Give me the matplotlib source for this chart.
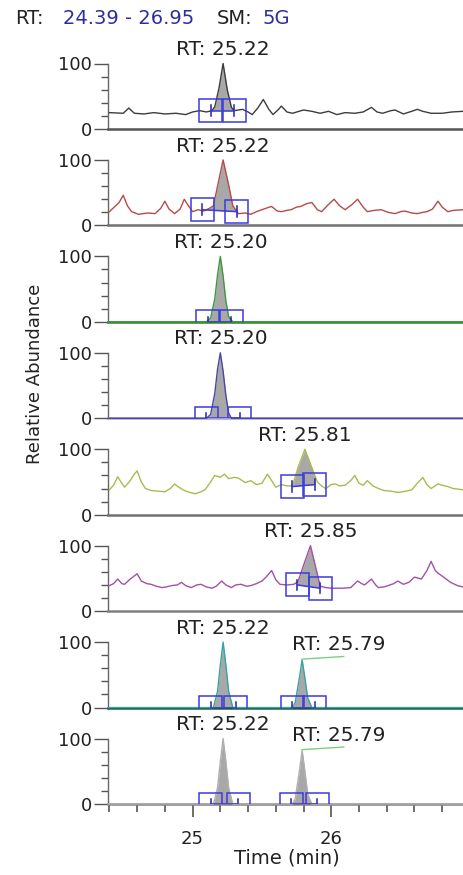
import matplotlib
matplotlib.use("Agg")
import matplotlib.pyplot as plt
from matplotlib.patches import Rectangle
from matplotlib.ticker import FixedLocator, MultipleLocator
import numpy as np

plt.rcParams["font.family"] = ["DejaVu Sans"]

X_MIN, X_MAX = 24.39, 26.95

# ── traces (time in min, relative abundance) ─────────────────────────────────
P1_T = [24.40, 24.50, 24.54, 24.58, 24.65, 24.72, 24.80, 24.88, 24.95, 25.00,
        25.05, 25.10, 25.14, 25.16, 25.19, 25.22, 25.25, 25.28, 25.30, 25.36,
        25.40, 25.43, 25.47, 25.51, 25.55, 25.58, 25.62, 25.64, 25.68, 25.72,
        25.80, 25.86, 25.92, 25.98, 26.04, 26.10, 26.17, 26.23, 26.29, 26.33,
        26.37, 26.43, 26.46, 26.52, 26.58, 26.62, 26.66, 26.72, 26.80, 26.87,
        26.95]
P1_V = [25, 24, 32, 24, 23, 25, 23, 24, 22, 26,
        28, 26, 28, 34, 62, 100, 60, 33, 28, 30,
        26, 22, 32, 45, 30, 22, 30, 35, 26, 24,
        29, 27, 24, 27, 22, 25, 24, 26, 33, 26,
        24, 28, 29, 23, 27, 30, 27, 24, 24, 26,
        27]

P2_T = [24.40, 24.47, 24.50, 24.53, 24.56, 24.61, 24.68, 24.73, 24.77, 24.80,
        24.83, 24.87, 24.91, 24.94, 24.97, 25.00, 25.04, 25.08, 25.12, 25.15,
        25.18, 25.22, 25.26, 25.29, 25.33, 25.38, 25.42, 25.46, 25.50, 25.54,
        25.57, 25.61, 25.64, 25.68, 25.71, 25.75, 25.78, 25.82, 25.86, 25.90,
        25.93, 25.98, 26.02, 26.06, 26.10, 26.15, 26.19, 26.23, 26.26, 26.31,
        26.36, 26.41, 26.46, 26.50, 26.53, 26.58, 26.62, 26.66, 26.69, 26.73,
        26.77, 26.80, 26.84, 26.88, 26.95]
P2_V = [21, 35, 46, 30, 21, 17, 19, 18, 26, 37,
        25, 18, 25, 40, 30, 21, 24, 22, 26, 30,
        60, 100, 62, 30, 18, 19, 17, 21, 24, 27,
        29, 22, 21, 23, 24, 28, 29, 33, 35, 24,
        21, 32, 40, 30, 24, 32, 40, 28, 21, 23,
        24, 20, 18, 21, 22, 19, 18, 20, 21, 25,
        37, 28, 21, 23, 24]

P3_T = [24.39, 25.10, 25.13, 25.16, 25.18, 25.20, 25.22, 25.24, 25.26, 25.29, 26.95]
P3_V = [0, 0, 6, 35, 72, 100, 70, 32, 8, 0, 0]

P4_T = [24.39, 25.10, 25.13, 25.16, 25.18, 25.20, 25.22, 25.24, 25.26, 25.28, 26.95]
P4_V = [0, 0, 6, 38, 75, 100, 72, 35, 8, 0, 0]

P5_T = [24.40, 24.43, 24.46, 24.49, 24.51, 24.55, 24.58, 24.60, 24.63, 24.66,
        24.70, 24.75, 24.80, 24.84, 24.87, 24.90, 24.94, 24.98, 25.02, 25.06,
        25.09, 25.13, 25.16, 25.20, 25.23, 25.26, 25.30, 25.33, 25.38, 25.42,
        25.46, 25.50, 25.54, 25.57, 25.60, 25.64, 25.68, 25.72, 25.76, 25.81,
        25.86, 25.90, 25.93, 25.96, 26.00, 26.03, 26.06, 26.10, 26.14, 26.17,
        26.20, 26.23, 26.26, 26.30, 26.34, 26.38, 26.43, 26.48, 26.54, 26.58,
        26.62, 26.66, 26.69, 26.72, 26.77, 26.80, 26.84, 26.88, 26.95]
P5_V = [38, 45, 58, 48, 42, 52, 62, 67, 50, 40,
        37, 36, 35, 40, 47, 42, 37, 34, 32, 35,
        38, 50, 60, 57, 62, 55, 57, 56, 49, 52,
        46, 48, 62, 52, 42, 46, 44, 44, 72, 100,
        72, 50, 44, 40, 46, 47, 44, 45, 52, 60,
        48, 45, 52, 44, 40, 37, 36, 34, 36, 38,
        48, 57, 46, 40, 47, 45, 43, 40, 38]

P6_T = [24.40, 24.43, 24.46, 24.49, 24.51, 24.55, 24.60, 24.63, 24.67, 24.70,
        24.74, 24.78, 24.81, 24.85, 24.89, 24.92, 24.95, 24.99, 25.03, 25.06,
        25.10, 25.14, 25.17, 25.21, 25.24, 25.28, 25.31, 25.35, 25.39, 25.42,
        25.46, 25.50, 25.53, 25.57, 25.60, 25.63, 25.68, 25.73, 25.76, 25.80,
        25.85, 25.89, 25.92, 25.96, 26.00, 26.08, 26.14, 26.19, 26.22, 26.24,
        26.29, 26.32, 26.34, 26.38, 26.41, 26.45, 26.48, 26.52, 26.56, 26.60,
        26.65, 26.69, 26.72, 26.75, 26.77, 26.81, 26.86, 26.91, 26.95]
P6_V = [39, 42, 49, 42, 41, 49, 57, 46, 42, 41,
        38, 36, 37, 39, 40, 44, 39, 36, 40, 41,
        37, 35, 38, 46, 40, 36, 40, 41, 38, 39,
        42, 46, 52, 62, 48, 41, 40, 41, 45, 70,
        100, 65, 38, 36, 35, 35, 36, 46, 42, 40,
        49, 40, 36, 37, 39, 42, 46, 41, 44, 52,
        49, 62, 76, 62, 58, 52, 44, 39, 37]

P7_T = [24.39, 25.15, 25.18, 25.20, 25.22, 25.24, 25.26, 25.29, 25.72, 25.74,
        25.77, 25.79, 25.81, 25.83, 25.86, 26.95]
P7_V = [0, 0, 25, 65, 100, 65, 25, 0, 0, 8, 45, 73, 45, 15, 0, 0]

P8_T = [24.39, 25.15, 25.18, 25.20, 25.22, 25.24, 25.26, 25.29, 25.72, 25.74,
        25.77, 25.79, 25.81, 25.83, 25.86, 26.95]
P8_V = [0, 0, 25, 65, 100, 65, 25, 0, 0, 8, 50, 82, 50, 15, 0, 0]

TRACES_T = [P1_T, P2_T, P3_T, P4_T, P5_T, P6_T, P7_T, P8_T]
TRACES_V = [P1_V, P2_V, P3_V, P4_V, P5_V, P6_V, P7_V, P8_V]

# ── detected peaks ───────────────────────────────────────────────────────────
APEX_T = [[25.22], [25.22], [25.20], [25.20], [25.81], [25.85], [25.22, 25.79], [25.22, 25.79]]
START_T = [[25.13], [25.07], [25.11], [25.10], [25.72], [25.755], [25.13, 25.72], [25.13, 25.71]]
START_V = [[28], [24], [0], [0], [43], [40], [0, 0], [0, 0]]
END_T = [[25.30], [25.32], [25.28], [25.34], [25.88], [25.92], [25.31, 25.88], [25.33, 25.90]]
END_V = [[28], [21], [0], [0], [46], [35], [0, 0], [0, 0]]
LABEL_SIDE = [["c"], ["c"], ["c"], ["c"], ["c"], ["c"], ["c", "r"], ["c", "r"]]

LINE_COLORS = ["#3c3c3c", "#b84a4a", "#3c9a3c", "#4848a8", "#aabb50", "#a450a8", "#35a5a5", "#b0b0b0"]
SPINE_COLORS = ["#555555", "#707070", "#2f7f2f", "#a0a0d8", "#707070", "#808080", "#24584a", "#808080"]

BLUE = "#3b3be0"
FILL = "#a8a8a8"

W, H = 464, 875
AX_L, AX_R = 108, 463
ZERO0, STEP, UNIT = 129, 96.43, 65.5
YTOP = 108
BOX_HW, BOX_HH = 0.083, 17.5

fig = plt.figure(figsize=(W / 100, H / 100), dpi=100)

for i in range(8):
    z = ZERO0 + STEP * i
    h = UNIT * YTOP / 100
    ax = fig.add_axes([AX_L / W, 1 - z / H, (AX_R - AX_L) / W, h / H])
    ax.patch.set_alpha(0)
    ax.set_xlim(X_MIN, X_MAX)
    ax.set_ylim(0, YTOP)

    t = np.array(TRACES_T[i], dtype=float)
    v = np.array(TRACES_V[i], dtype=float)

    for k, ap in enumerate(APEX_T[i]):
        ts, te = START_T[i][k], END_T[i][k]
        vs, ve = START_V[i][k], END_V[i][k]
        # grey area between trace and peak baseline
        inner = (t > ts) & (t < te)
        ft = np.concatenate([[ts], t[inner], [te]])
        fv = np.interp(ft, t, v)
        fb = np.interp(ft, [ts, te], [vs, ve])
        ax.fill_between(ft, fb, np.maximum(fv, fb), color=FILL, lw=0, zorder=2)
        # boundary boxes + baseline
        for bt, bv in ((ts, vs), (te, ve)):
            ax.add_patch(Rectangle((bt - BOX_HW, bv - BOX_HH), 2 * BOX_HW, 2 * BOX_HH,
                                   fill=False, edgecolor=BLUE, lw=1.1, zorder=4))
            ax.plot([bt, bt], [bv - 8, bv + 8], color="#2020b0", lw=1.1, zorder=4)
        ax.plot([ts, te], [vs, ve], color=BLUE, lw=1.1, zorder=4)

        av = float(np.interp(ap, t, v)) if i not in (6, 7) else float(v[np.argmin(np.abs(t - ap))])
        av = max(av, float(np.max(v[(t >= ap - 0.02) & (t <= ap + 0.02)])))
        txt = f"RT: {ap:.2f}"
        if LABEL_SIDE[i][k] == "c":
            ax.annotate(txt, xy=(ap, av), xytext=(0, 6), textcoords="offset points",
                        ha="center", va="baseline", fontsize=14.5, color="#222222",
                        annotation_clip=False)
        else:
            ax.plot([ap, ap + 0.30], [av + 1, av + 5], color="#7fcf7f", lw=1.0,
                    clip_on=False, zorder=5)
            ax.annotate(txt, xy=(ap, av), xytext=(-7, 7), textcoords="offset points",
                        ha="left", va="baseline", fontsize=14.5, color="#222222",
                        annotation_clip=False)

    ax.plot(t, v, color=LINE_COLORS[i], lw=1.0, zorder=3, clip_on=False)

    for s in ("top", "right"):
        ax.spines[s].set_visible(False)
    ax.spines["left"].set_bounds(0, 100)
    ax.spines["left"].set_color("#666666")
    ax.spines["left"].set_linewidth(1.0)
    ax.spines["bottom"].set_color(SPINE_COLORS[i])
    ax.spines["bottom"].set_linewidth(1.8)
    ax.spines["bottom"].set_zorder(2.5)

    ax.set_yticks([0, 100])
    ax.set_yticklabels(["0", "100"], fontsize=13, color="#222222")
    ax.yaxis.set_minor_locator(FixedLocator([20, 40, 60, 80]))
    ax.tick_params(axis="y", which="major", length=10, width=1.0, color="#555555", pad=1.5)
    ax.tick_params(axis="y", which="minor", length=5, width=1.0, color="#555555")

    if i < 7:
        ax.tick_params(axis="x", which="both", bottom=False, labelbottom=False)
    else:
        ax.set_xticks([25, 26])
        ax.set_xticklabels(["25", "26"], fontsize=13, color="#222222")
        ax.xaxis.set_minor_locator(MultipleLocator(0.2))
        ax.tick_params(axis="x", which="major", length=9, width=1.2, color="#555555", pad=10)
        ax.tick_params(axis="x", which="minor", length=6, width=1.2, color="#555555")

# header
hy = 1 - 18 / H
fig.text(15 / W, hy, "RT:", fontsize=14, color="#222222", va="center")
fig.text(63 / W, hy, "24.39 - 26.95", fontsize=14, color="#2e2e9e", va="center")
fig.text(217 / W, hy, "SM:", fontsize=14, color="#222222", va="center")
fig.text(262 / W, hy, "5G", fontsize=14, color="#2e2e9e", va="center")

fig.text(35 / W, 1 - 374 / H, "Relative Abundance", rotation=90, ha="center",
         va="center", fontsize=13, color="#222222")
fig.text(287 / W, 1 - 858 / H, "Time (min)", ha="center", va="center",
         fontsize=14, color="#222222")

fig.savefig("out.png", dpi=100)
